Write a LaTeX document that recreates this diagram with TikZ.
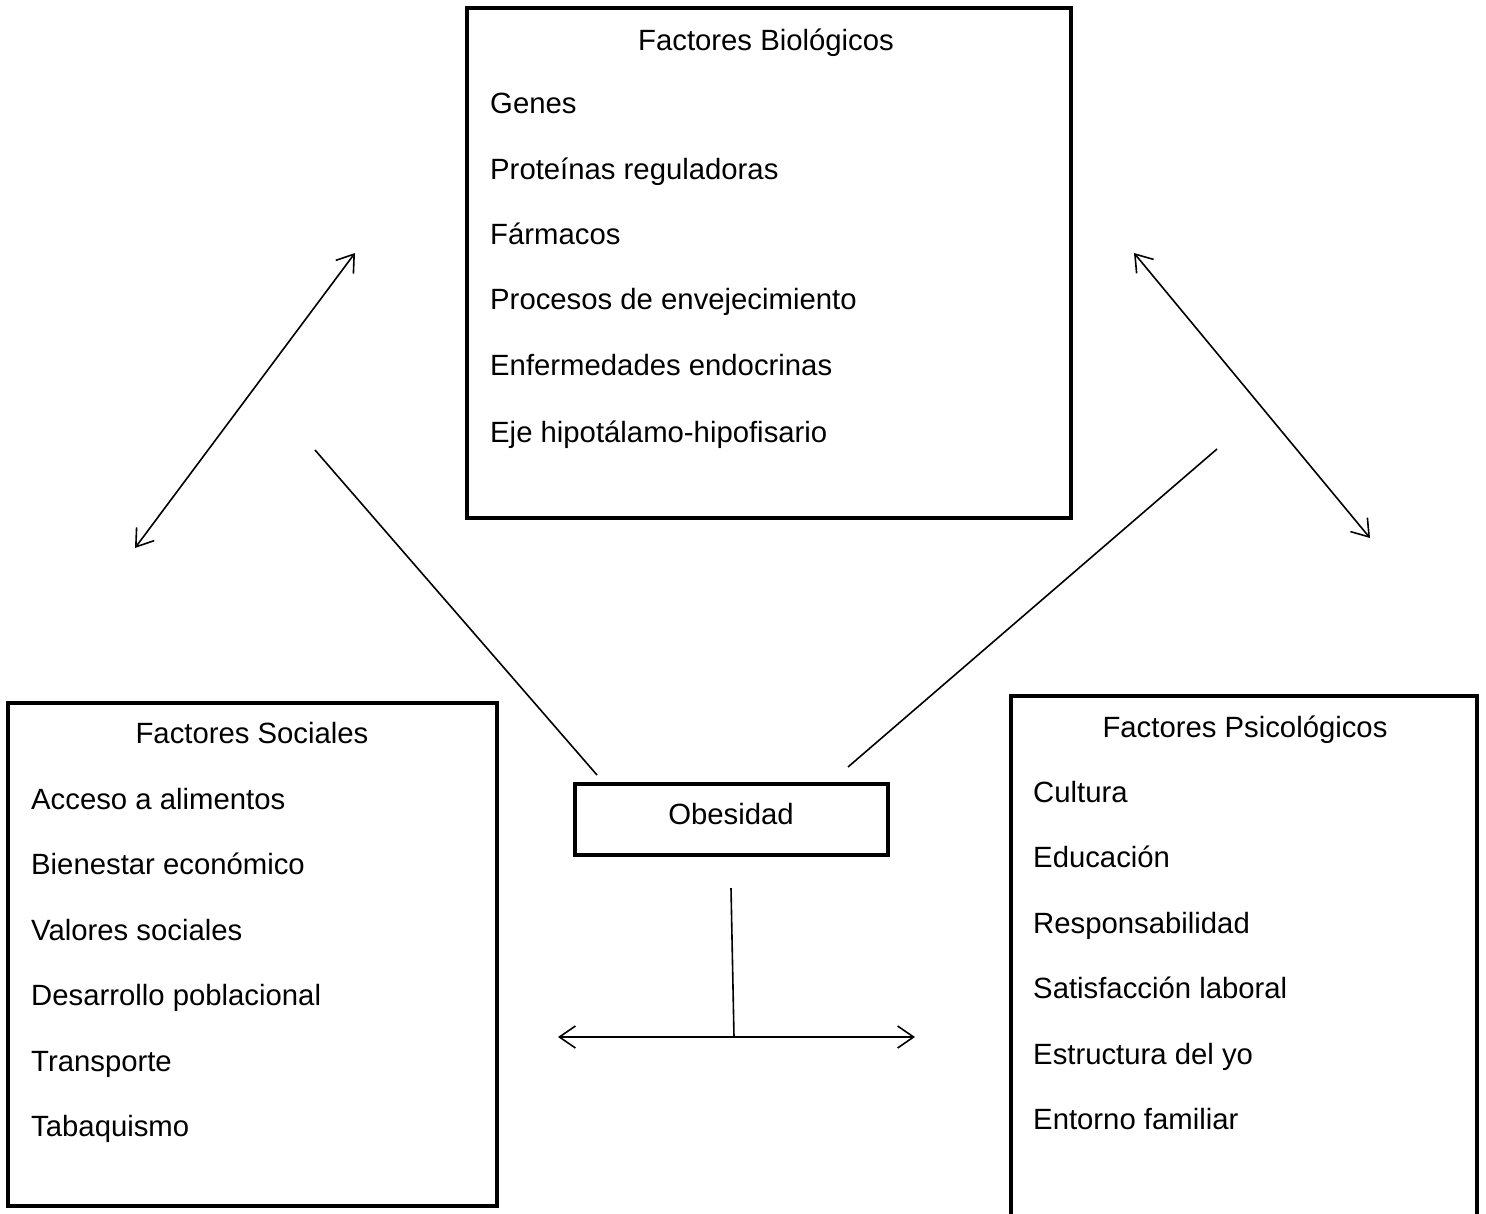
\documentclass[tikz,border=0pt]{standalone}
\usepackage{fontspec}
\setmainfont{Liberation Sans}
\usetikzlibrary{arrows.meta}
\begin{document}
\begin{tikzpicture}[x=1pt,y=-1pt,
  box/.style={draw=black,line width=4pt,inner sep=0pt,rectangle},
  lbl/.style={inner sep=0pt,font=\fontsize{29.3}{35}\selectfont},
  item/.style={lbl,anchor=base west},
  ttl/.style={lbl,anchor=base},
  conn/.style={line width=1.6pt},
  biarrow/.style={conn,{Straight Barb[length=16pt,width=22pt]}-{Straight Barb[length=16pt,width=22pt]}}]
\clip (0,0) rectangle (1486,1213);
\useasboundingbox (0,0) rectangle (1486,1213);
% boxes
\node[box,minimum width=604pt,minimum height=510pt] (bio) at (769,263) {};
\node[box,minimum width=489pt,minimum height=503pt] (soc) at (252.5,954.5) {};
\node[box,minimum width=466pt,minimum height=534pt] (psy) at (1244,963) {};
\node[box,minimum width=313pt,minimum height=71pt] (obbox) at (731.5,819.5) {};
% texts
\node[ttl] (bt) at (766,50) {Factores Biológicos};
\node[item] (b1) at (490,113) {Genes};
\node[item] (b2) at (490,179) {Proteínas reguladoras};
\node[item] (b3) at (490,244) {Fármacos};
\node[item] (b4) at (490,309) {Procesos de envejecimiento};
\node[item] (b5) at (490,375) {Enfermedades endocrinas};
\node[item] (b6) at (490,442) {Eje hipotálamo-hipofisario};
\node[ttl] (st) at (252,743) {Factores Sociales};
\node[item] (s1) at (31,809) {Acceso a alimentos};
\node[item] (s2) at (31,874) {Bienestar económico};
\node[item] (s3) at (31,940) {Valores sociales};
\node[item] (s4) at (31,1005) {Desarrollo poblacional};
\node[item] (s5) at (31,1071) {Transporte};
\node[item] (s6) at (31,1136) {Tabaquismo};
\node[ttl] (pt) at (1245,737) {Factores Psicológicos};
\node[item] (p1) at (1033,802) {Cultura};
\node[item] (p2) at (1033,867) {Educación};
\node[item] (p3) at (1033,933) {Responsabilidad};
\node[item] (p4) at (1033,998) {Satisfacción laboral};
\node[item] (p5) at (1033,1064) {Estructura del yo};
\node[item] (p6) at (1033,1129) {Entorno familiar};
\node[ttl] (ob) at (731,824) {Obesidad};
% connector end points
\coordinate (la1) at (135,548);
\coordinate (la2) at (355,253);
\coordinate (ra1) at (1134,253);
\coordinate (ra2) at (1370,538);
\coordinate (ll1) at (315,450);
\coordinate (ll2) at (597,775);
\coordinate (rl1) at (1217,449);
\coordinate (rl2) at (848,767);
\coordinate (v1) at (731,888);
\coordinate (v2) at (734,1037);
\coordinate (h1) at (558,1037);
\coordinate (h2) at (915,1037);
% connectors
\draw[biarrow] (la1) -- (la2);
\draw[biarrow] (ra1) -- (ra2);
\draw[conn] (ll1) -- (ll2);
\draw[conn] (rl1) -- (rl2);
\draw[conn] (v1) -- (v2);
\draw[biarrow] (h1) -- (h2);
\end{tikzpicture}
\end{document}
